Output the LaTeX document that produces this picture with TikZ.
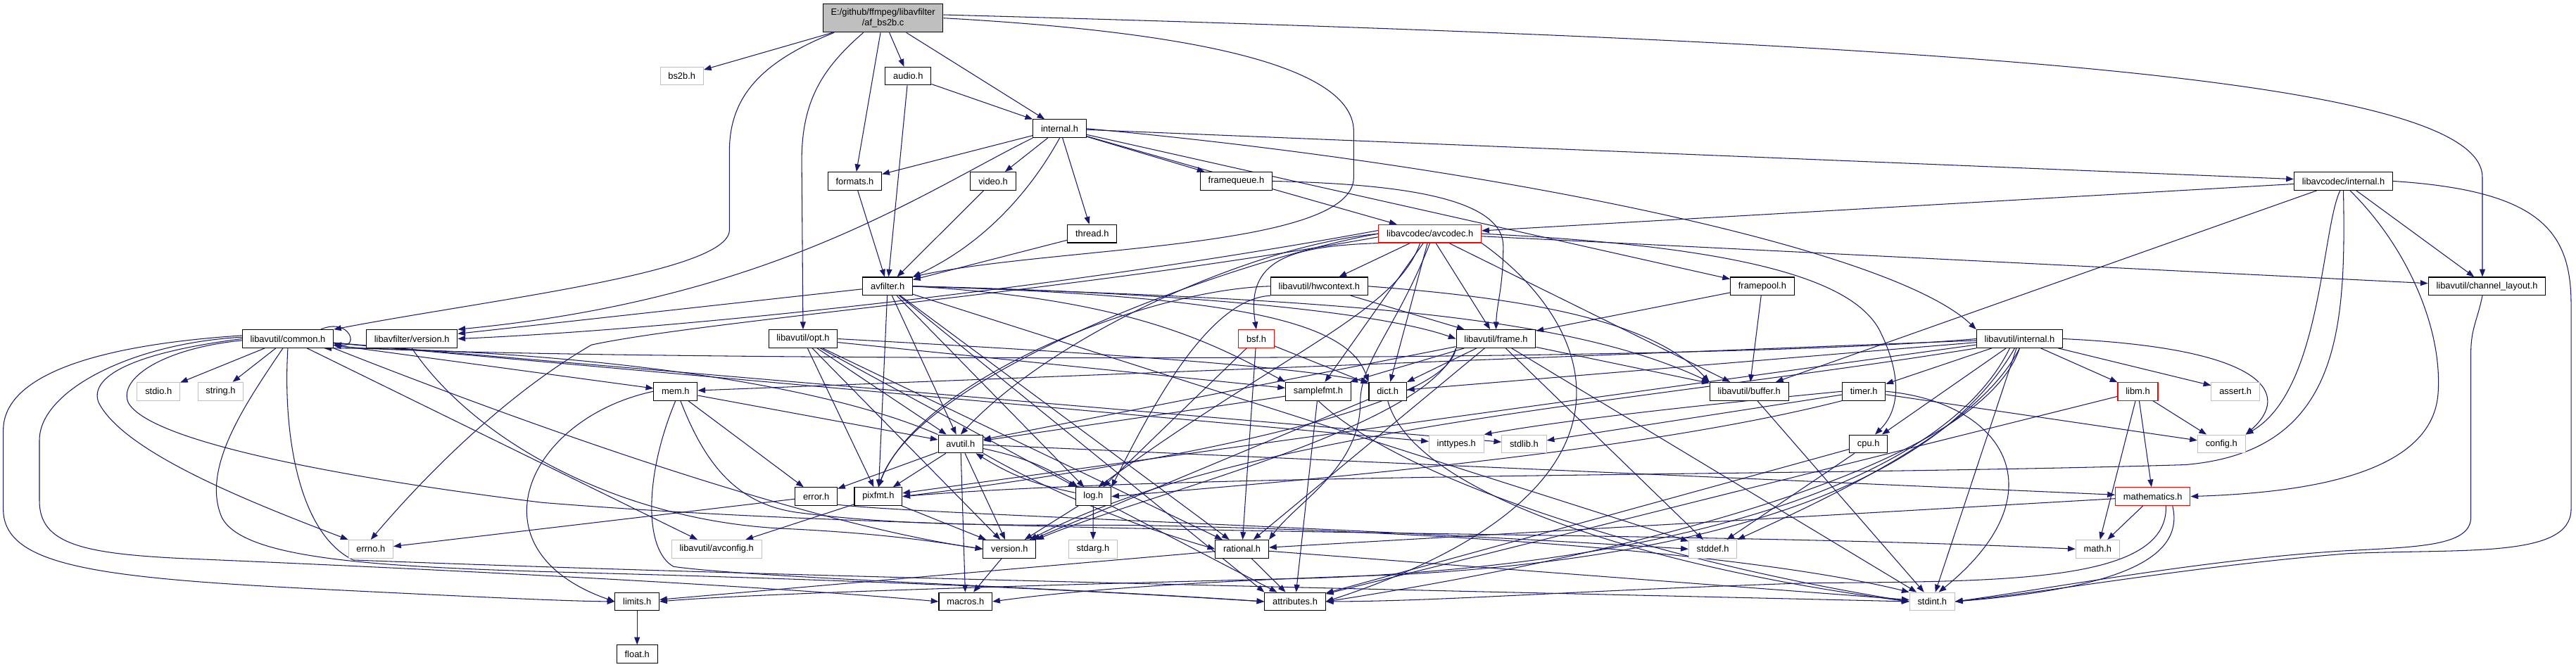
\documentclass[tikz,border=0pt]{standalone}
\usepackage{fontspec}
\newfontfamily\dfont{Liberation Sans}
\usetikzlibrary{arrows.meta,backgrounds}
\definecolor{edgeblue}{HTML}{191970}
\definecolor{sysgray}{HTML}{BFBFBF}
\definecolor{rootfill}{HTML}{BFBFBF}
\tikzset{
  nd/.style={draw=black,fill=white,line width=0.45pt,inner xsep=4.85pt,inner ysep=0pt,minimum height=11pt,font=\dfont\fontsize{5.52}{6.6}\selectfont,text=black},
  sys/.style={nd,draw=sysgray},
  trunc/.style={nd,draw=red},
  e/.style={draw=edgeblue,line width=0.45pt,-{Triangle[length=4.6pt,width=3.4pt]}},
}
\begin{document}
\begin{tikzpicture}[x=1pt,y=-1pt]
\useasboundingbox (0,0) rectangle (1568,406);
% ---------- nodes ----------
\node[nd,fill=rootfill,align=center,minimum height=17.3pt] (root) at (537.5,11) {E:/github/ffmpeg/libavfilter\\/af\_bs2b.c};
\node[sys] (bs2b) at (415,46.3) {bs2b.h};
\node[nd] (audio) at (552.8,46.3) {audio.h};
\node[nd] (internal) at (645,78.3) {internal.h};
\node[nd] (formats) at (520.3,110.3) {formats.h};
\node[nd] (video) at (604.5,110.3) {video.h};
\node[nd] (framequeue) at (752.5,110.3) {framequeue.h};
\node[nd] (lavcinternal) at (1426.4,110.3) {libavcodec/internal.h};
\node[nd] (thread) at (664.8,142.3) {thread.h};
\node[trunc] (avcodec) at (870.4,142.3) {libavcodec/avcodec.h};
\node[nd] (avfilter) at (540.3,174.3) {avfilter.h};
\node[nd] (hwcontext) at (803,174.3) {libavutil/hwcontext.h};
\node[nd] (framepool) at (1072.7,174.3) {framepool.h};
\node[nd] (chlayout) at (1513.8,174.3) {libavutil/channel\_layout.h};
\node[nd] (common) at (175.2,206.3) {libavutil/common.h};
\node[nd] (lavfiversion) at (250.7,206.3) {libavfilter/version.h};
\node[nd] (opt) at (488.8,206.3) {libavutil/opt.h};
\node[trunc] (bsf) at (764.7,206.3) {bsf.h};
\node[nd] (frame) at (910.6,206.3) {libavutil/frame.h};
\node[nd] (lavuinternal) at (1229.3,206.3) {libavutil/internal.h};
\node[sys] (stdio) at (96.5,238.3) {stdio.h};
\node[sys] (string) at (134.3,238.3) {string.h};
\node[nd] (mem) at (411.2,238.3) {mem.h};
\node[nd] (samplefmt) at (802.4,238.3) {samplefmt.h};
\node[nd] (dict) at (844.7,238.3) {dict.h};
\node[nd] (buffer) at (1064.7,238.3) {libavutil/buffer.h};
\node[nd] (timer) at (1134.5,238.3) {timer.h};
\node[trunc] (libm) at (1301.3,238.3) {libm.h};
\node[sys] (assert) at (1360.7,238.3) {assert.h};
\node[nd] (avutil) at (584.7,270.3) {avutil.h};
\node[sys] (inttypes) at (886.5,270.3) {inttypes.h};
\node[sys] (stdlib) at (927.7,270.3) {stdlib.h};
\node[nd] (cpu) at (1137.3,270.3) {cpu.h};
\node[sys] (config) at (1352.2,270.3) {config.h};
\node[nd] (error) at (496.8,302.3) {error.h};
\node[nd] (pixfmt) at (534.6,302.3) {pixfmt.h};
\node[nd] (log) at (665.5,302.3) {log.h};
\node[trunc] (mathematics) at (1310.4,302.3) {mathematics.h};
\node[sys] (errno) at (225.7,334.3) {errno.h};
\node[sys] (avconfig) at (436.2,334.3) {libavutil/avconfig.h};
\node[nd] (version) at (614.5,334.3) {version.h};
\node[sys] (stdarg) at (665.3,334.3) {stdarg.h};
\node[nd] (rational) at (756,334.3) {rational.h};
\node[sys] (stddef) at (1042.6,334.3) {stddef.h};
\node[sys] (math) at (1276.8,334.3) {math.h};
\node[nd] (limits) at (387.8,366.3) {limits.h};
\node[nd] (macros) at (587.7,366.3) {macros.h};
\node[nd] (attributes) at (788.3,366.3) {attributes.h};
\node[sys] (stdint) at (1176.1,366.3) {stdint.h};
\node[nd] (float) at (387.8,398.3) {float.h};
% ---------- edges ----------
\begin{pgfonlayer}{background}
\fill[white] (0,0) rectangle (1568,406);
\foreach \a/\b in {root/bs2b, root/audio, root/internal, root/formats,
  audio/internal, audio/avfilter,
  internal/formats, internal/video, internal/thread, internal/framequeue, internal/avcodec, internal/lavcinternal, internal/framepool,
  formats/avfilter, video/avfilter, thread/avfilter,
  lavcinternal/avcodec, lavcinternal/buffer, lavcinternal/chlayout,
  avcodec/hwcontext, avcodec/samplefmt, avcodec/dict, avcodec/frame, avcodec/buffer, avcodec/chlayout,
  hwcontext/frame, framepool/buffer, framepool/frame,
  bsf/dict, bsf/log, bsf/rational,
  frame/avutil, frame/buffer, frame/dict, frame/rational, frame/samplefmt, frame/stddef, frame/stdint,
  lavuinternal/mem, lavuinternal/dict, lavuinternal/timer, lavuinternal/cpu, lavuinternal/libm, lavuinternal/assert, lavuinternal/stdint, lavuinternal/pixfmt,
  mem/error, mem/avutil,
  samplefmt/avutil, samplefmt/attributes,
  dict/version, buffer/stdint,
  timer/config, timer/stdlib,
  libm/math, libm/mathematics, libm/attributes, libm/config,
  avutil/error, avutil/pixfmt, avutil/version, avutil/macros, avutil/mathematics,
  cpu/stddef, cpu/attributes,
  error/errno, pixfmt/avconfig, pixfmt/version,
  log/stdarg, log/version, log/attributes,
  mathematics/math, mathematics/rational, version/macros,
  rational/attributes, rational/stdint, rational/limits, limits/float,
  common/stdio, common/string, common/mem, common/avconfig, common/inttypes, common/stdlib,
  opt/rational, opt/avutil, opt/log, opt/pixfmt, opt/samplefmt, opt/version,
  avfilter/lavfiversion, avfilter/avutil, avfilter/log, avfilter/pixfmt, avfilter/rational, avfilter/stddef}
  {\draw[e] (\a) -- (\b);}
% root
\draw[e] ([xshift=7pt]root.south west) .. controls (462,38) and (444,60) .. (444,92) -- (444,140) .. controls (444,166) and (300,182) .. (common.north east);
\draw[e] ([xshift=-12pt]root.south) .. controls (500,42) and (488,62) .. (488,98) -- (opt.north);
\draw[e] (root.east) .. controls (700,18) and (824,35) .. (824,80) -- (824,108) .. controls (824,152) and (640,150) .. (avfilter.north east);
\draw[e] ([yshift=2pt]root.east) .. controls (1200,26) and (1511,48) .. (1511,108) -- ([xshift=-2.8pt]chlayout.north);
% libavfilter/internal.h
\draw[e] (internal.south) .. controls (628,115) and (600,148) .. (avfilter.north east);
\draw[e] (internal.south west) .. controls (560,118) and (470,182) .. (lavfiversion.north east);
\draw[e] (internal.east) .. controls (900,100) and (1150,150) .. (lavuinternal.north west);
\draw[e] (framequeue.east) .. controls (850,112) and (915,120) .. (915,150) .. controls (915,175) and (911,185) .. (frame.north);
% libavcodec/internal.h
\draw[e] ([xshift=-2pt]lavcinternal.south) .. controls (1413,140) and (1413,238) .. (config.north east);
\draw[e] (lavcinternal.south) .. controls (1428,200) and (1425,275) .. (1330,283) .. controls (1100,290) and (720,288) .. (pixfmt.east);
\draw[e] ([xshift=4pt]lavcinternal.south) .. controls (1465,150) and (1487,200) .. (1484,240) .. controls (1480,290) and (1400,300) .. (mathematics.east);
\draw[e] (lavcinternal.east) .. controls (1545,116) and (1565,140) .. (1565,185) -- (1565,310) .. controls (1565,340) and (1500,334) .. (1430,337) .. controls (1340,344) and (1250,360) .. (stdint.east);
\draw[e] ([xshift=-2.8pt]chlayout.south) .. controls (1508,195) and (1504,200) .. (1504,215) -- (1504,315) .. controls (1504,333) and (1470,333) .. (1425,335.5) .. controls (1340,341) and (1250,358) .. (stdint.east);
% libavcodec/avcodec.h
\draw[e] (avcodec.south west) .. controls (785,150) and (758,158) .. (bsf.north);
\draw[e] (avcodec.west) .. controls (760,150) and (640,205) .. (avutil.north);
\draw[e] ([xshift=-6pt]avcodec.south) .. controls (850,190) and (780,215) .. ([xshift=3pt]log.north);
\draw[e] (avcodec.west) .. controls (760,156) and (560,225) .. (pixfmt.north);
\draw[e] (avcodec.south) .. controls (850,200) and (828,220) .. (828,245) .. controls (828,285) and (790,305) .. (rational.north east);
\draw[e] (avcodec.south east) .. controls (975,200) and (1010,300) .. (attributes.east);
\draw[e] (avcodec.east) .. controls (1060,150) and (1130,170) .. (1145,203) .. controls (1158,230) and (1156,250) .. ([xshift=4pt]cpu.north);
\draw[e] ([yshift=-2pt]avcodec.west) .. controls (650,178) and (430,195) .. (360,210) .. controls (300,245) and (250,300) .. (errno.north);
\draw[e] ([yshift=2pt]avcodec.west) .. controls (650,175) and (420,200) .. (lavfiversion.east);
% hwcontext
\draw[e] (hwcontext.east) .. controls (950,183) and (1010,200) .. (buffer.north west);
\draw[e] (hwcontext.south west) .. controls (735,182) and (700,250) .. (log.north east);
\draw[e] (hwcontext.west) .. controls (700,176) and (560,230) .. (pixfmt.north);
% opt, frame
\draw[e] (opt.east) .. controls (650,214) and (780,222) .. (dict.north west);
\draw[e] (frame.south west) .. controls (880,255) and (650,290) .. (pixfmt.east);
\draw[e] (frame.south west) .. controls (870,260) and (700,300) .. (version.north east);
% avfilter.h
\draw[e] (avfilter.east) .. controls (800,182) and (950,190) .. (buffer.north west);
\draw[e] (avfilter.east) .. controls (750,180) and (820,195) .. (dict.north west);
\draw[e] (avfilter.east) .. controls (720,178) and (840,190) .. (frame.west);
\draw[e] (avfilter.east) .. controls (690,182) and (740,210) .. (samplefmt.north west);
\draw[e] (avfilter) -- (attributes.north west);
% common.h
\draw[e] (common.south east) .. controls (350,270) and (500,320) .. (version.west);
\draw[e] ([yshift=2pt]common.west) .. controls (60,210) and (2,228) .. (2,262) -- (2,310) .. controls (2,345) and (60,352) .. (200,359) .. controls (300,364) and (345,366) .. (limits.west);
\draw[e] ([yshift=1pt]common.west) .. controls (80,209) and (24,238) .. (24,268) -- (24,305) .. controls (24,331) and (50,337) .. (110,340) .. controls (300,348) and (480,358) .. (macros.west);
\draw[e] (common.west) .. controls (72,216) and (55,232) .. (60,245) .. controls (75,275) and (150,305) .. (errno.north west);
\draw[e] ([yshift=-1pt]common.west) .. controls (100,212) and (72,230) .. (78,245) .. controls (90,268) and (200,290) .. (330,306) .. controls (600,328) and (1000,322) .. (math.west);
\draw[e] ([xshift=-3pt]common.south) .. controls (150,245) and (122,285) .. (135,315) .. controls (150,345) and (260,346) .. (400,350) .. controls (600,356) and (700,362) .. (attributes.west);
\draw[e] (common.south) .. controls (172,265) and (182,325) .. (215,341) .. controls (500,352) and (900,360) .. (stdint.west);
\draw[e] ([xshift=-8pt]common.north east) .. controls (213,193) and (219,212) .. ([yshift=-3pt]common.east);
% libavutil/internal.h
\draw[e] (lavuinternal.west) .. controls (1000,224) and (260,218) .. ([yshift=-4pt]common.east);
\draw[e] (lavuinternal.east) .. controls (1380,212) and (1395,240) .. (config.north east);
\draw[e] (lavuinternal.south) .. controls (1205,260) and (1120,300) .. (stddef.north east);
\draw[e] (lavuinternal.south west) .. controls (1000,245) and (760,260) .. ([xshift=-4pt]version.north east);
\draw[e] ([xshift=-6pt]lavuinternal.south) .. controls (1180,300) and (1000,345) .. (800,352) .. controls (600,357) and (450,362) .. (limits.east);
\draw[e] ([xshift=-3pt]lavuinternal.south) .. controls (1170,310) and (1000,342) .. (850,350) .. controls (720,354) and (650,360) .. (macros.east);
\draw[e] (lavuinternal.south) .. controls (1200,300) and (900,352) .. (attributes.east);
% mem.h
\draw[e] (mem.west) .. controls (320,255) and (285,335) .. (limits.west);
\draw[e] (mem.south) .. controls (392,290) and (392,335) .. (410,345) .. controls (460,352) and (650,358) .. (attributes.west);
\draw[e] ([xshift=3pt]mem.south) .. controls (430,285) and (450,307) .. (485,312) .. controls (560,322) and (640,319) .. (700,320) .. controls (950,325) and (1100,345) .. (stdint.north west);
% samplefmt, dict
\draw[e] (samplefmt.south) .. controls (850,290) and (1000,340) .. (stdint.west);
\draw[e] (dict.south) .. controls (860,300) and (1000,345) .. (stdint.west);
% timer
\draw[e] (timer.west) .. controls (1000,250) and (940,258) .. (inttypes.north east);
\draw[e] (timer.south west) .. controls (1000,275) and (800,292) .. (log.east);
\draw[e] (timer.east) .. controls (1220,245) and (1255,300) .. ([xshift=4pt]stdint.north);
% error, mathematics
\draw[e] ([yshift=-5pt]error.east) .. controls (560,313) and (800,320) .. (stddef.west);
\draw[e] ([xshift=8pt]mathematics.south) .. controls (1320,355) and (1220,354) .. (1100,355) .. controls (950,360) and (880,366) .. (attributes.east);
\draw[e] ([xshift=12pt]mathematics.south) .. controls (1330,340) and (1290,358) .. (stdint.east);
% avutil.h
\draw[e] (avutil.north west) .. controls (480,225) and (300,212) .. ([xshift=-6pt]common.south east);
\draw[e] (avutil.south east) .. controls (640,300) and (690,320) .. (rational.west);
\draw[e] (avutil) to[bend left=10] (log);
\draw[e] (log) to[bend left=10] (avutil);
% libavfilter/version.h
\draw[e] (lavfiversion.south) .. controls (290,270) and (380,318) .. (480,322) .. controls (540,325) and (570,330) .. (version.west);
\end{pgfonlayer}
\end{tikzpicture}
\end{document}
